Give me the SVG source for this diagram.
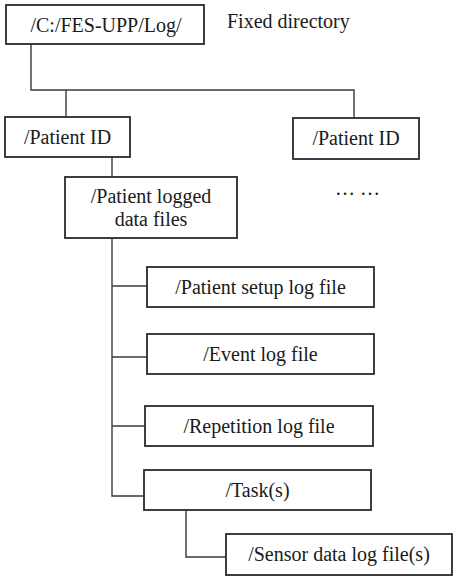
<svg xmlns="http://www.w3.org/2000/svg" width="457" height="587" viewBox="0 0 457 587">
<style>
.box{fill:#fff;stroke:#2a2a2a;stroke-width:1.8}
.ln{fill:none;stroke:#3a3a3a;stroke-width:1.4}
text{font-family:"Liberation Serif","Times New Roman",serif;font-size:20px;fill:#1a1a1a}
.c{text-anchor:middle}
</style>
<rect width="457" height="587" fill="#fff"/>
<g id="connectors">
<path class="ln" d="M31 44 V90 H354 V118"/>
<path class="ln" d="M66 90 V117"/>
<path class="ln" d="M112 157 V177"/>
<path class="ln" d="M112 238 V496 H144"/>
<path class="ln" d="M112 286 H147"/>
<path class="ln" d="M112 357 H147"/>
<path class="ln" d="M112 426 H145"/>
<path class="ln" d="M186 510 V557 H226"/>
</g>
<g id="root"><rect class="box" x="6" y="5" width="198" height="39"/><text class="c" x="106" y="32">/C:/FES-UPP/Log/</text></g>
<g id="label-fixed"><text x="227" y="28">Fixed directory</text></g>
<g id="patient1"><rect class="box" x="5" y="117" width="125" height="40"/><text class="c" x="67.5" y="144">/Patient ID</text></g>
<g id="patient2"><rect class="box" x="293" y="118" width="126" height="41"/><text class="c" x="356" y="145">/Patient ID</text></g>
<g id="ellipsis"><text x="335" y="195">… …</text></g>
<g id="logged"><rect class="box" x="65" y="177" width="172" height="61"/><text class="c" x="151" y="203">/Patient logged</text><text class="c" x="151" y="226">data files</text></g>
<g id="setup"><rect class="box" x="147" y="267" width="227" height="40"/><text class="c" x="260.5" y="294">/Patient setup log file</text></g>
<g id="event"><rect class="box" x="147" y="334" width="227" height="40"/><text class="c" x="260.5" y="361">/Event log file</text></g>
<g id="repetition"><rect class="box" x="145" y="406" width="228" height="40"/><text class="c" x="259" y="433">/Repetition log file</text></g>
<g id="task"><rect class="box" x="144" y="470" width="227" height="40"/><text class="c" x="257.5" y="497">/Task(s)</text></g>
<g id="sensor"><rect class="box" x="226" y="534" width="226" height="41"/><text class="c" x="339" y="561">/Sensor data log file(s)</text></g>
</svg>
